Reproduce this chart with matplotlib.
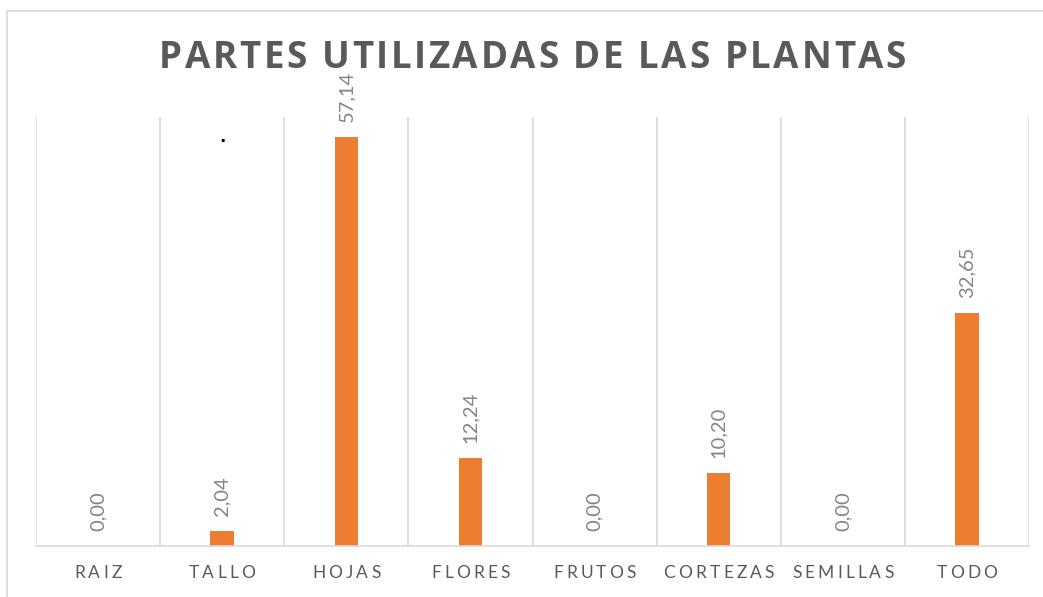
import matplotlib
matplotlib.use("Agg")
import matplotlib.pyplot as plt
from matplotlib.lines import Line2D
from matplotlib import transforms

# Data
partes = ["RAIZ", "TALLO", "HOJAS", "FLORES", "FRUTOS", "CORTEZAS", "SEMILLAS", "TODO"]
porcentajes = [0.00, 2.04, 57.14, 12.24, 0.00, 10.20, 0.00, 32.65]
titulo = "PARTES UTILIZADAS DE LAS PLANTAS"

W, H = 1043, 597
fig = plt.figure(figsize=(W / 100, H / 100), dpi=100)
fig.patch.set_facecolor("white")

# plot area in pixels: x 36..1029, y 117..546 (from top)
ax = fig.add_axes([36 / W, (H - 546) / H, (1029 - 36) / W, (546 - 117) / H])
ax.set_xlim(-0.5, len(partes) - 0.5)
ax.set_ylim(0, 60)

grid_col = "#d9d9d9"
for i in range(len(partes) + 1):
    ax.axvline(i - 0.5, color=grid_col, lw=1.2, zorder=0)

ax.bar(range(len(partes)), porcentajes, width=0.19, color="#ed7d31", zorder=2)

for sp in ["top", "left", "right"]:
    ax.spines[sp].set_visible(False)
ax.spines["bottom"].set_color(grid_col)
ax.spines["bottom"].set_linewidth(1.2)
ax.set_xticks([])
ax.set_yticks([])

# value labels, rotated, with the decimal comma
for i, v in enumerate(porcentajes):
    lbl = f"{v:.2f}".replace(".", ",")
    off = transforms.offset_copy(ax.transData, fig=fig, x=0, y=15, units="dots")
    ax.text(i, v, lbl, transform=off, rotation=90, ha="center", va="bottom",
            fontsize=14.5, color="#858585", family="Lato", clip_on=False)

# stray dot above TALLO
ax.text(1, 56, ".", ha="center", va="bottom", fontsize=12, color="black",
        fontweight="bold", clip_on=False)

renderer = fig.canvas.get_renderer()


def text_width(s, **kw):
    t = fig.text(0, 0, s, **kw)
    w = t.get_window_extent(renderer=renderer).width
    t.remove()
    return w


def spaced_text(xc, yc, s, spacing, **kw):
    # draw s centred at pixel (xc, yc from top) with extra letter spacing
    base = text_width("HH", **kw)
    adv = [text_width("H" + c + "H", **kw) - base for c in s]
    total = sum(adv) + spacing * (len(s) - 1)
    x = xc - total / 2
    for c, a in zip(s, adv):
        fig.text(x / W, (H - yc) / H, c, ha="left", va="center", **kw)
        x += a + spacing


# category labels
cat_w = (1029 - 36) / len(partes)
for i, p in enumerate(partes):
    spaced_text(36 + cat_w * (i + 0.5), 573, p, 3.2,
                fontsize=12.5, color="#595959", family="Lato")

# title
spaced_text(532.5, 58, titulo, 2.6, fontsize=26.5, color="#595959",
            family="Open Sans", fontweight="bold")

# outer chart border (top and left edges visible)
fig.add_artist(Line2D([7 / W, 1], [1 - 11 / H, 1 - 11 / H], color=grid_col, lw=1.2))
fig.add_artist(Line2D([7 / W, 7 / W], [0, 1 - 11 / H], color=grid_col, lw=1.2))

fig.savefig("out.png", dpi=100, facecolor="white")
